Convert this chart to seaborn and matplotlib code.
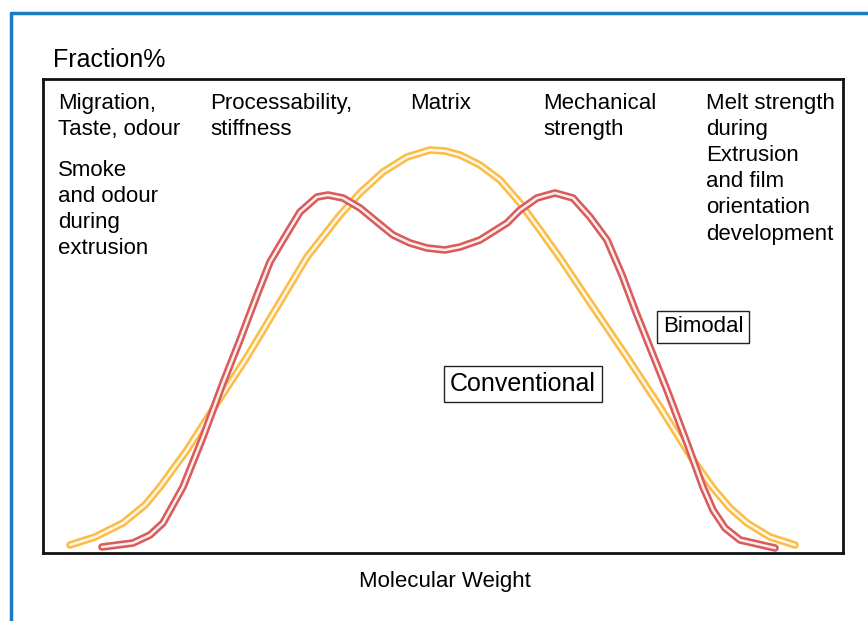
import matplotlib.pyplot as plt
import seaborn as sns
import pandas as pd
from matplotlib.lines import Line2D


# ___ Data (arbitrary units, axis spans 0-800 x 0-474) ___

conv_x = [27, 52, 80, 102, 117, 144, 174, 204, 234, 264, 297, 317, 340, 364, 387, 402,
          417, 437, 457, 477, 497, 517, 550, 584, 617, 650, 670, 687, 704, 727, 752]
conv_y = [8, 16, 30, 48, 66, 103, 150, 196, 246, 296, 338, 360, 381, 396, 403, 402,
          398, 388, 373, 350, 323, 295, 246, 196, 146, 93, 65, 45, 30, 16, 8]

bim_x = [59, 90, 107, 120, 140, 160, 180, 197, 214, 227, 240, 257, 274, 285, 300, 317,
         334, 350, 367, 384, 402, 417, 437, 464, 477, 494, 512, 530, 547, 564, 579, 594,
         604, 624, 644, 660, 670, 682, 697, 732]
bim_y = [6, 10, 18, 30, 66, 116, 170, 213, 258, 291, 313, 341, 356, 358, 355, 345,
         331, 318, 310, 305, 303, 306, 313, 330, 343, 355, 360, 355, 336, 313, 278, 238,
         213, 163, 110, 66, 43, 25, 13, 5]

region_labels = ["Migration,\nTaste, odour", "Processability,\nstiffness", "Matrix",
                 "Mechanical\nstrength",
                 "Melt strength\nduring\nExtrusion\nand film\norientation\ndevelopment"]
region_x = [58, 210, 410, 543, 706]
extra_label = "Smoke\nand odour\nduring\nextrusion"

conv = pd.DataFrame({"mw": conv_x, "frac": conv_y})
bim = pd.DataFrame({"mw": bim_x, "frac": bim_y})

sns.set_theme(style="white")
plt.rcParams['font.family'] = ['Liberation Sans', 'DejaVu Sans']
plt.rcParams['text.color'] = 'black'

W, H = 868, 621
fig = plt.figure(figsize=(W / 100, H / 100), dpi=100)
ax = fig.add_axes([43 / W, 1 - 553 / H, 800 / W, 474 / H])


def tube(df, outer, inner):
    # coloured tube with a light core
    sns.lineplot(data=df, x="mw", y="frac", ax=ax, color=outer, lw=5.5,
                 solid_capstyle="round", solid_joinstyle="round", sort=False)
    sns.lineplot(data=df, x="mw", y="frac", ax=ax, color=inner, lw=1.8,
                 solid_capstyle="round", solid_joinstyle="round", sort=False)


tube(conv, "#fbbd48", "#fff8e8")
tube(bim, "#d95c5c", "#fdeeee")

ax.set_xlim(0, 800)
ax.set_ylim(0, 474)
ax.set_xticks([])
ax.set_yticks([])
ax.set_xlabel("")
ax.set_ylabel("")
for s in ax.spines.values():
    s.set_color("#111111")
    s.set_linewidth(2)


def fx(px):
    return px / W


def fy(py):
    return 1 - py / H


fs = 16
fig.text(fx(53), fy(60), "Fraction%", fontsize=18, va="center", ha="left")
for lab, px in zip(region_labels, region_x):
    fig.text(fx(px), fy(93), lab, fontsize=fs, va="top", ha="left", linespacing=1.32)
fig.text(fx(58), fy(160), extra_label, fontsize=fs, va="top", ha="left", linespacing=1.32)
fig.text(fx(445), fy(581), "Molecular Weight", fontsize=fs, va="center", ha="center")

box = dict(boxstyle="square,pad=0.25", fc="white", ec="#222222", lw=1)
fig.text(fx(703), fy(327), "Bimodal", fontsize=fs, va="center", ha="center", bbox=box)
fig.text(fx(523), fy(384), "Conventional", fontsize=18, va="center", ha="center", bbox=box)

# blue frame at top/left
blue = "#1a7bc4"
fig.add_artist(Line2D([fx(11), fx(11)], [fy(13), 0], color=blue, lw=2.5))
fig.add_artist(Line2D([fx(11), 1], [fy(13), fy(13)], color=blue, lw=2.5))

fig.savefig("out.png", dpi=100)
